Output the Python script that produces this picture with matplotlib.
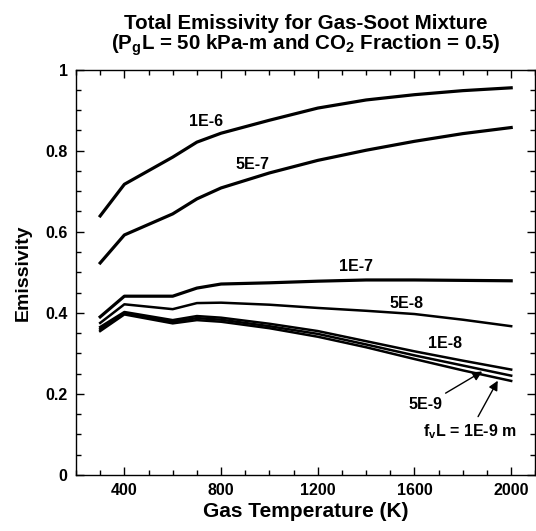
"""
Total emissivity of gas-soot mixture vs gas temperature
"""
import matplotlib
matplotlib.use('Agg')
import matplotlib.pyplot as plt
from matplotlib.ticker import MultipleLocator

plt.rcParams.update({
    'font.family': ['Liberation Sans', 'DejaVu Sans'],
    'font.weight': 'bold',
    'mathtext.fontset': 'custom',
    'mathtext.rm': 'Liberation Sans:bold',
    'mathtext.bf': 'Liberation Sans:bold',
    'mathtext.it': 'Liberation Sans:bold',
})

# ---- data ----
temps = [300, 400, 600, 700, 800, 1000, 1200, 1400, 1600, 1800, 2000]
eps_1e6 = [0.639, 0.717, 0.784, 0.821, 0.843, 0.875, 0.905, 0.925, 0.938, 0.948, 0.955]
eps_5e7 = [0.523, 0.592, 0.644, 0.681, 0.708, 0.745, 0.776, 0.801, 0.823, 0.842, 0.857]
eps_1e7 = [0.390, 0.441, 0.441, 0.461, 0.471, 0.474, 0.478, 0.481, 0.481, 0.480, 0.479]
eps_5e8 = [0.375, 0.421, 0.409, 0.424, 0.425, 0.420, 0.412, 0.405, 0.397, 0.383, 0.367]
eps_1e8 = [0.365, 0.402, 0.382, 0.392, 0.388, 0.373, 0.355, 0.330, 0.305, 0.282, 0.260]
eps_5e9 = [0.360, 0.399, 0.378, 0.387, 0.383, 0.367, 0.348, 0.322, 0.295, 0.270, 0.245]
eps_1e9 = [0.355, 0.396, 0.374, 0.382, 0.378, 0.362, 0.341, 0.315, 0.286, 0.258, 0.232]

fig = plt.figure(figsize=(5.36, 5.31), dpi=100)
ax = fig.add_axes([0.1418, 0.1055, 0.857, 0.7635])

thick = [eps_1e6, eps_5e7, eps_1e7]
thin = [eps_5e8, eps_1e8, eps_5e9, eps_1e9]
for e in thick:
    ax.plot(temps, e, color='black', lw=2.3)
for e in thin:
    ax.plot(temps, e, color='black', lw=1.8)

ax.set_xlim(200, 2100)
ax.set_ylim(0, 1)
ax.xaxis.set_minor_locator(MultipleLocator(100))
ax.yaxis.set_minor_locator(MultipleLocator(0.05))
ax.set_xticks([400, 800, 1200, 1600, 2000])
ax.set_yticks([0, 0.2, 0.4, 0.6, 0.8, 1.0])
ax.set_yticklabels(['0', '0.2', '0.4', '0.6', '0.8', '1'])
ax.tick_params(which='both', direction='in', top=True, right=True,
               labelsize=11.5, width=1)
ax.tick_params(which='major', length=6, pad=6)
ax.tick_params(which='minor', length=3.5)
for s in ax.spines.values():
    s.set_linewidth(1)

ax.set_xlabel('Gas Temperature (K)', fontsize=15, fontweight='bold', labelpad=3)
ax.set_ylabel('Emissivity', fontsize=14, fontweight='bold', labelpad=10)
ax.set_title('Total Emissivity for Gas-Soot Mixture\n'
             r'(P$_{\mathbf{g}}$L = 50 kPa-m and CO$_{\mathbf{2}}$ Fraction = 0.5)',
             fontsize=14.8, fontweight='bold', pad=14, linespacing=1.0)

# curve labels
lab = dict(fontsize=11.5, fontweight='bold', ha='center', va='center')
ax.text(740, 0.873, '1E-6', **lab)
ax.text(928, 0.767, '5E-7', **lab)
ax.text(1359, 0.514, '1E-7', **lab)
ax.text(1569, 0.424, '5E-8', **lab)
ax.text(1726, 0.325, '1E-8', **lab)

arr = dict(arrowstyle='-|>', color='black', lw=1, mutation_scale=14)
ax.annotate('5E-9', xy=(1890, eps_5e9[9] + (eps_5e9[10] - eps_5e9[9]) * 0.45),
            xytext=(1647, 0.173), arrowprops=arr, **lab)
ax.annotate(r'f$_{\mathbf{v}}$L = 1E-9 m',
            xy=(1950, eps_1e9[9] + (eps_1e9[10] - eps_1e9[9]) * 0.75),
            xytext=(1830, 0.108), arrowprops=arr, **lab)

fig.savefig('out.png', dpi=100, facecolor='white')
